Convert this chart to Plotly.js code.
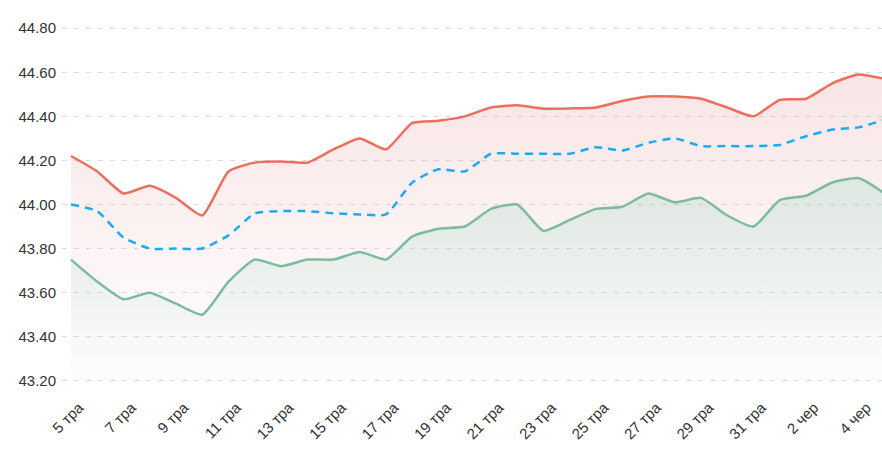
<!DOCTYPE html>
<html>
<head>
<meta charset="utf-8">
<script src="https://cdn.plot.ly/plotly-3.0.1.min.js"></script>
<style>html,body{margin:0;padding:0;background:#fff}#chart{width:882px;height:450px}</style>
</head>
<body>
<div id="chart"></div>
<script>
const days = ['5 тра','6 тра','7 тра','8 тра','9 тра','10 тра','11 тра','12 тра','13 тра','14 тра','15 тра','16 тра','17 тра','18 тра','19 тра','20 тра','21 тра','22 тра','23 тра','24 тра','25 тра','26 тра','27 тра','28 тра','29 тра','30 тра','31 тра','1 чер','2 чер','3 чер','4 чер','5 чер'];
const tickLabels = ['5 тра','7 тра','9 тра','11 тра','13 тра','15 тра','17 тра','19 тра','21 тра','23 тра','25 тра','27 тра','29 тра','31 тра','2 чер','4 чер'];
const sellRate = [44.22,44.15,44.05,44.085,44.03,43.95,44.15,44.19,44.195,44.19,44.25,44.30,44.25,44.37,44.38,44.40,44.44,44.45,44.435,44.436,44.44,44.47,44.49,44.49,44.48,44.44,44.40,44.475,44.48,44.55,44.59,44.57];
const midRate = [44.00,43.97,43.85,43.80,43.80,43.80,43.86,43.96,43.97,43.97,43.96,43.955,43.955,44.10,44.16,44.15,44.23,44.23,44.23,44.23,44.26,44.245,44.28,44.30,44.265,44.265,44.265,44.27,44.31,44.34,44.35,44.385];
const buyRate = [43.75,43.65,43.57,43.60,43.55,43.50,43.65,43.75,43.72,43.75,43.75,43.785,43.75,43.855,43.89,43.90,43.98,44.00,43.88,43.93,43.98,43.99,44.05,44.01,44.03,43.95,43.90,44.02,44.04,44.10,44.12,44.05];
const yTicks = [43.2,43.4,43.6,43.8,44.0,44.2,44.4,44.6,44.8];

const traces = [
  {x: days, y: sellRate, type:'scatter', mode:'lines', fill:'tozeroy',
   line:{color:'#ec6f5d', width:2.5, shape:'spline', smoothing:0.5},
   fillgradient:{type:'vertical', start:43.2, stop:44.6,
     colorscale:[[0,'rgba(220,110,110,0)'],[1,'rgba(220,110,110,0.18)']]},
   hoverinfo:'skip'},
  {x: days, y: buyRate, type:'scatter', mode:'lines', fill:'tozeroy',
   line:{color:'#7dbba0', width:2.5, shape:'spline', smoothing:0.5},
   fillgradient:{type:'vertical', start:43.2, stop:44.1,
     colorscale:[[0,'rgba(120,205,185,0.02)'],[1,'rgba(120,205,185,0.22)']]},
   hoverinfo:'skip'},
  {x: days, y: midRate, type:'scatter', mode:'lines',
   line:{color:'#1ba9f0', width:2.5, dash:'8px,6px', shape:'spline', smoothing:0.5},
   hoverinfo:'skip'}
];

const layout = {
  width:882, height:450,
  margin:{l:62, r:0, t:26, b:67},
  paper_bgcolor:'#fff', plot_bgcolor:'#fff',
  showlegend:false,
  font:{family:'Liberation Sans, Arial, sans-serif', size:15, color:'#333'},
  xaxis:{type:'category', range:[-0.343, 30.895], tickvals: tickLabels, ticktext: tickLabels,
    tickangle:-45, showgrid:false, zeroline:false, showline:false, ticks:'',
    ticklabelstandoff:12, ticklabelshift:8,
    tickfont:{size:15, color:'#333'}},
  yaxis:{range:[43.19, 44.81], tickvals: yTicks, ticktext: yTicks.map(v=>v.toFixed(2)),
    showgrid:true, gridcolor:'#dcdcdc', griddash:'5px,7px', gridwidth:1,
    zeroline:false, showline:false, ticks:'outside', ticklen:2, tickcolor:'rgba(0,0,0,0)',
    tickfont:{size:15, color:'#333'}}
};

Plotly.newPlot('chart', traces, layout, {staticPlot:true, displayModeBar:false});
</script>
</body>
</html>
